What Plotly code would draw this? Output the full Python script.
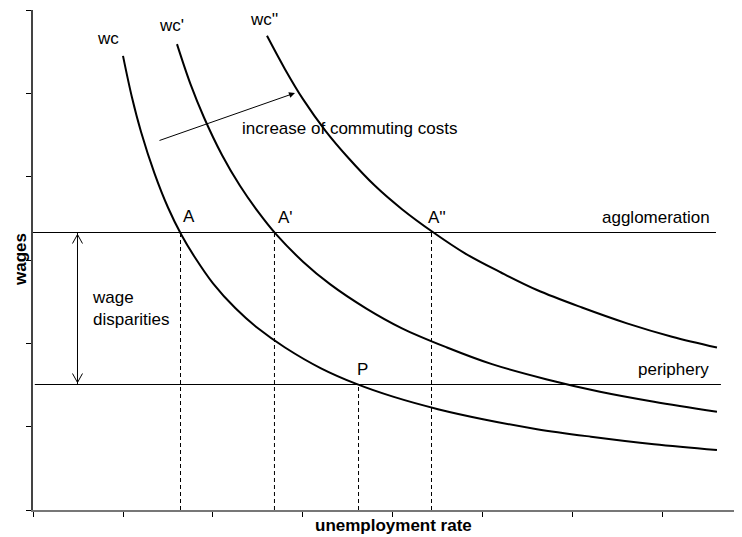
import plotly.graph_objects as go

# ---- data ----
wc_x = [1.0, 1.1, 1.2, 1.35, 1.5, 1.65, 1.8, 2.0, 2.25, 2.5, 2.8, 3.2, 3.6, 4.0, 4.5, 5.0, 5.6, 6.2, 6.9, 7.6]
wc_y = [5.45, 4.95, 4.54, 4.04, 3.63, 3.30, 3.03, 2.72, 2.42, 2.18, 1.95, 1.70, 1.51, 1.36, 1.21, 1.09, 0.97, 0.88, 0.79, 0.72]

wc1_x = [1.6, 1.75, 1.9, 2.1, 2.3, 2.5, 2.7, 3.0, 3.3, 3.7, 4.1, 4.6, 5.1, 5.7, 6.3, 6.9, 7.6]
wc1_y = [5.59, 5.11, 4.71, 4.26, 3.89, 3.58, 3.31, 2.98, 2.71, 2.42, 2.18, 1.95, 1.75, 1.57, 1.42, 1.30, 1.18]

wc2_x = [2.6, 2.8, 3.0, 3.25, 3.5, 3.8, 4.1, 4.45, 4.8, 5.2, 5.6, 6.1, 6.6, 7.1, 7.6]
wc2_y = [5.69, 5.29, 4.93, 4.55, 4.23, 3.89, 3.61, 3.33, 3.08, 2.85, 2.64, 2.43, 2.24, 2.08, 1.95]

agglomeration_level = 3.330
periphery_level = 1.506
agglomeration_span = [0.0, 7.589]
periphery_span = [0.02, 7.644]

eq_names = ["A", "A'", "A''", "P"]
eq_x = [1.639, 2.683, 4.428, 3.617]
eq_y = [agglomeration_level, agglomeration_level, agglomeration_level, periphery_level]

x_ticks = [0, 1, 2, 3, 4, 5, 6, 7]
y_ticks = [0, 1, 2, 3, 4, 5, 6]

FONT = "Liberation Sans, Arial, sans-serif"

fig = go.Figure()

# curves
for xs, ys in [(wc_x, wc_y), (wc1_x, wc1_y), (wc2_x, wc2_y)]:
    fig.add_trace(go.Scatter(x=xs, y=ys, mode="lines", line=dict(color="black", width=2, shape="spline"),
                             hoverinfo="skip"))

# horizontal levels
fig.add_trace(go.Scatter(x=agglomeration_span, y=[agglomeration_level] * 2, mode="lines",
                         line=dict(color="black", width=1), hoverinfo="skip"))
fig.add_trace(go.Scatter(x=periphery_span, y=[periphery_level] * 2, mode="lines",
                         line=dict(color="black", width=1), hoverinfo="skip"))

# dashed verticals
for ex, ey in zip(eq_x, eq_y):
    fig.add_trace(go.Scatter(x=[ex, ex], y=[0, ey], mode="lines",
                             line=dict(color="black", width=1, dash="4px,3px"), hoverinfo="skip"))

annotations = []
def txt(text, x, y, xanchor="center", yanchor="middle", xref="x", yref="y", bold=False, textangle=0, align="left"):
    annotations.append(dict(text=f"<b>{text}</b>" if bold else text, x=x, y=y, xref=xref, yref=yref,
                            xanchor=xanchor, yanchor=yanchor, showarrow=False, textangle=textangle,
                            align=align, font=dict(family=FONT, size=17, color="black")))

txt("wc", 0.833, 5.664)
txt("wc'", 1.544, 5.82)
txt("wc''", 2.567, 5.892)
txt("A", 1.64, 3.528, xanchor="left")
txt("A'", 2.70, 3.516, xanchor="left")
txt("A''", 4.37, 3.516, xanchor="left")
txt("P", 3.58, 1.692, xanchor="left")
txt("agglomeration", 7.55, 3.516, xanchor="right")
txt("periphery", 7.53, 1.692, xanchor="right")
txt("increase of commuting costs", 2.30, 4.584, xanchor="left")
txt("wage<br>disparities", 0.63, 2.424, xanchor="left")
txt("wages", -0.0184, 0.502, xref="paper", yref="paper", bold=True, textangle=-90)
txt("unemployment rate", 0.5085, -0.03, xref="paper", yref="paper", bold=True)

# arrow: increase of commuting costs
annotations.append(dict(x=2.911, y=5.004, ax=1.389, ay=4.428, xref="x", yref="y", axref="x", ayref="y",
                        text="", showarrow=True, arrowhead=2, arrowsize=1.2, arrowwidth=1, arrowcolor="black"))

shapes = []
# double arrow for wage disparities
arrow_x = 0.4944
shapes.append(dict(type="line", x0=arrow_x, x1=arrow_x, y0=agglomeration_level, y1=periphery_level,
                   xref="x", yref="y", line=dict(color="black", width=1)))
for level, sgn in [(agglomeration_level, -1), (periphery_level, 1)]:
    for dx in (-5, 5):
        shapes.append(dict(type="line", xref="x", yref="y", xsizemode="pixel", ysizemode="pixel",
                           xanchor=arrow_x, yanchor=level, x0=0, y0=sgn * 2, x1=dx, y1=sgn * 11,
                           line=dict(color="black", width=1)))

# the page body adds an 8px offset; compensate so the plot area sits at x 33-741, y 10-510
fig.update_layout(
    width=734, height=529,
    margin=dict(l=25, r=1, t=2, b=27),
    paper_bgcolor="white", plot_bgcolor="white",
    showlegend=False,
    annotations=annotations, shapes=shapes,
    xaxis=dict(range=[0, 7.867], showgrid=False, zeroline=False, showline=True, linecolor="#777", linewidth=2,
               ticks="outside", tickvals=x_ticks, ticklen=5, tickwidth=1, tickcolor="black", showticklabels=False),
    yaxis=dict(range=[0, 6], showgrid=False, zeroline=False, showline=True, linecolor="#444", linewidth=1.5,
               ticks="outside", tickvals=y_ticks, ticklen=5, tickwidth=1, tickcolor="black", showticklabels=False),
)

fig.write_html("out.html")
